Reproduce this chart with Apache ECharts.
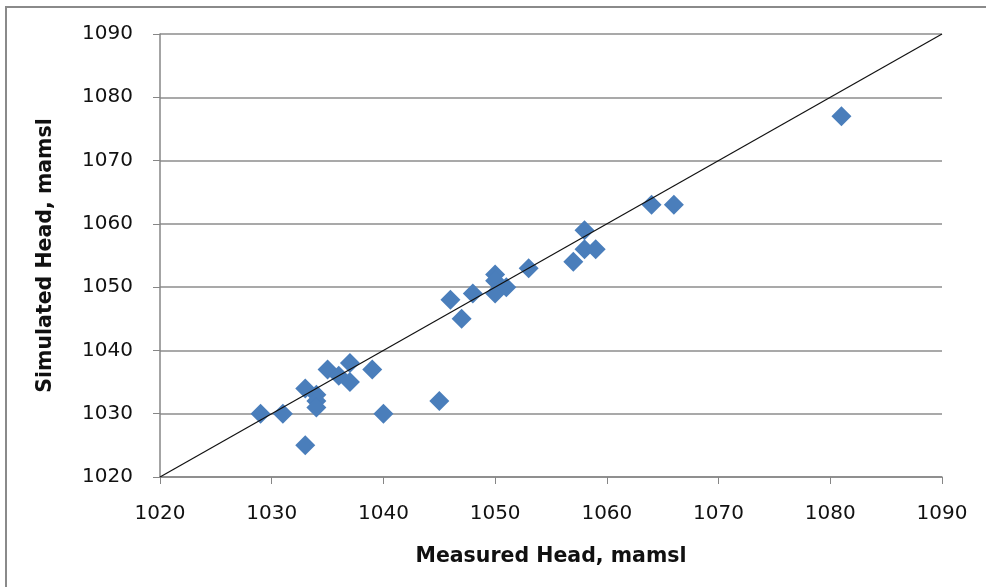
<!DOCTYPE html>
<html>
<head>
    <meta charset="UTF-8">
    <title>Measured vs Simulated Head</title>
</head>
<style>
    body{margin:0;background:#fff;}
    #chart{width:986px;height:587px;}
</style>
<body>
<div id="chart"></div>
<script type="text/javascript" src="https://cdn.jsdelivr.net/npm/echarts@6/dist/echarts.min.js"></script>
<script>
    // measured head (x) and simulated head (y), mamsl
    var measured  = [1029, 1031, 1033, 1033, 1034, 1034, 1034, 1035, 1036, 1037, 1037, 1039, 1040, 1045,
                     1046, 1047, 1048, 1050, 1050, 1050, 1051, 1053, 1057, 1058, 1058, 1059, 1064, 1066, 1081];
    var simulated = [1030, 1030, 1025, 1034, 1033, 1032, 1031, 1037, 1036, 1038, 1035, 1037, 1030, 1032,
                     1048, 1045, 1049, 1052, 1051, 1049, 1050, 1053, 1054, 1059, 1056, 1056, 1063, 1063, 1077];
    var oneToOne = [1020, 1090];
    var axisMin = 1020, axisMax = 1090, axisStep = 10;

    var pts = measured.map(function (m, i) { return [m, simulated[i]]; });
    var linePts = oneToOne.map(function (v) { return [v, v]; });

    var font = 'DejaVu Sans';
    var plain = function (v) { return String(v); };
    var chart = echarts.init(document.getElementById('chart'));
    chart.setOption({
        animation: false,
        grid: {left: 160, right: 44, top: 34, bottom: 110},
        graphic: [{
            type: 'rect',
            shape: {x: 6, y: 7, width: 1000, height: 600},
            style: {fill: 'none', stroke: '#8a8a8a', lineWidth: 2},
            silent: true
        }],
        xAxis: {
            type: 'value', min: axisMin, max: axisMax, interval: axisStep,
            name: 'Measured Head, mamsl', nameLocation: 'middle', nameGap: 69,
            nameTextStyle: {fontFamily: font, fontSize: 20.5, fontWeight: 'bold', color: '#111'},
            axisLine: {show: true, lineStyle: {color: '#868686', width: 1.5}},
            axisTick: {show: true, inside: false, length: 7, lineStyle: {color: '#868686'}},
            axisLabel: {fontFamily: font, fontSize: 20, color: '#111', margin: 27, formatter: plain},
            splitLine: {show: false}
        },
        yAxis: {
            type: 'value', min: axisMin, max: axisMax, interval: axisStep,
            name: 'Simulated Head, mamsl', nameLocation: 'middle', nameGap: 104,
            nameTextStyle: {fontFamily: font, fontSize: 20.5, fontWeight: 'bold', color: '#111'},
            axisLine: {show: true, lineStyle: {color: '#868686', width: 1.5}},
            axisTick: {show: true, inside: false, length: 7, lineStyle: {color: '#868686'}},
            axisLabel: {fontFamily: font, fontSize: 20, color: '#111', margin: 27, formatter: plain},
            splitLine: {show: true, lineStyle: {color: '#8c8c8c', width: 1.5}}
        },
        series: [{
            type: 'line',
            data: linePts,
            symbol: 'none',
            lineStyle: {color: '#111', width: 1.2},
            silent: true,
            z: 3
        }, {
            type: 'scatter',
            data: pts,
            symbol: 'diamond',
            symbolSize: [20, 20],
            itemStyle: {color: '#4a7ebb', opacity: 1},
            z: 2
        }]
    });
</script>
</body>
</html>
